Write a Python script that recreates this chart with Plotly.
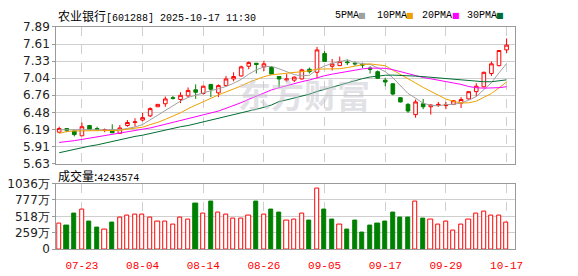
import plotly.graph_objects as go

# ---------------- data ----------------
dates = ["07-18","07-21","07-22","07-23","07-24","07-25","07-28","07-29","07-30","07-31",
         "08-01","08-04","08-05","08-06","08-07","08-08","08-11","08-12","08-13","08-14",
         "08-15","08-18","08-19","08-20","08-21","08-22","08-25","08-26","08-27","08-28",
         "08-29","09-01","09-02","09-03","09-04","09-05","09-08","09-09","09-10","09-11",
         "09-12","09-15","09-16","09-17","09-18","09-19","09-22","09-23","09-24","09-25",
         "09-26","09-29","09-30","10-09","10-10","10-13","10-14","10-15","10-16","10-17"]

opens  = [6.15,6.21,6.17,6.09,6.26,6.21,6.18,6.18,6.13,6.26,6.31,6.35,6.42,6.57,6.62,6.72,6.69,6.75,6.85,6.79,
          6.94,6.80,6.92,7.03,7.08,7.24,7.29,7.23,7.22,7.07,7.01,7.01,7.03,7.19,7.14,7.45,7.24,7.25,7.31,7.29,
          7.27,7.21,7.15,7.01,6.95,6.72,6.61,6.44,6.62,6.57,6.59,6.59,6.61,6.63,6.70,6.82,6.90,7.12,7.25,7.51]
highs  = [6.24,6.22,6.17,6.31,6.27,6.24,6.21,6.28,6.27,6.35,6.38,6.47,6.56,6.61,6.74,6.75,6.81,6.89,6.94,6.92,
          6.94,6.94,7.08,7.14,7.25,7.32,7.29,7.33,7.24,7.07,7.11,7.07,7.20,7.22,7.56,7.49,7.36,7.40,7.35,7.32,
          7.30,7.24,7.17,7.05,6.96,6.73,6.63,6.69,6.70,6.61,6.65,6.65,6.68,6.73,6.83,6.96,7.15,7.32,7.50,7.70]
lows   = [6.14,6.15,6.08,6.09,6.19,6.18,6.15,6.14,6.12,6.24,6.24,6.33,6.40,6.57,6.57,6.69,6.63,6.73,6.70,6.77,
          6.73,6.73,6.91,6.99,7.07,7.19,7.12,7.16,7.11,6.89,6.98,6.98,7.02,7.12,7.04,7.32,7.17,7.25,7.26,7.25,
          7.21,7.12,7.03,6.91,6.76,6.64,6.47,6.39,6.53,6.44,6.57,6.53,6.60,6.55,6.69,6.74,6.89,7.08,7.24,7.46]
closes = [6.21,6.18,6.11,6.24,6.20,6.20,6.19,6.14,6.22,6.31,6.32,6.39,6.54,6.61,6.70,6.71,6.76,6.84,6.81,6.91,
          6.86,6.92,7.03,7.07,7.23,7.30,7.27,7.28,7.11,7.03,7.03,7.06,7.18,7.15,7.51,7.32,7.28,7.32,7.30,7.28,
          7.26,7.19,7.04,6.98,6.78,6.65,6.50,6.65,6.57,6.60,6.61,6.60,6.67,6.69,6.82,6.91,7.14,7.28,7.50,7.59]

# volume in 万 (10k shares)
volumes = [405,375,555,625,435,345,310,420,505,525,540,540,495,430,430,390,495,460,720,565,
           750,580,540,475,475,525,750,540,630,570,445,460,565,450,960,630,465,390,315,450,
           255,375,405,435,570,495,495,745,480,460,390,430,295,390,465,565,595,525,525,424.3574]
vol_dir = "RGGRGGRGRRRRRRRRRRGRGRRRRRGRGGRRRGRGGRGGGGGGGGGRGRRRRRRRRRRR"

# moving-average values before enough history exists in the window
ma5_head  = [6.19,6.19,6.18,6.19]
ma10_head = [6.13,6.16,6.17,6.17,6.17,6.17,6.18,6.18,6.18]
ma20_head = [5.98,5.99,6.01,6.03,6.05,6.07,6.09,6.11,6.13,6.15,6.17,6.20,6.22,6.25,6.28,6.31,6.34,6.37,6.40]
ma30_head = [5.81,5.84,5.86,5.89,5.92,5.94,5.97,6.00,6.02,6.05,6.08,6.10,6.13,6.16,6.18,6.21,6.24,6.26,6.29,
             6.32,6.34,6.37,6.40,6.43,6.46,6.49,6.52,6.56,6.60]

price_ticks = ["5.63","5.91","6.19","6.48","6.76","7.04","7.33","7.61","7.89"]
vol_ticks = ["0","259万","518万","777万","1036万"]
vol_tickvals = [0,259,518,777,1036]
x_label_dates = ["07-23","08-04","08-14","08-26","09-05","09-17","09-29","10-17"]

ma_names = ["5PMA","10PMA","20PMA","30PMA"]
ma_colors = ["#a0a0a0","#f0a000","#ff00ff","#006e32"]

title_name = "农业银行"
title_rest = "[601288] 2025-10-17 11:30"
vol_title = "成交量:4243574"

# ---------------- derived ----------------
x = list(range(len(dates)))

def ma(n, head):
    out = []
    for i in range(len(closes)):
        if i < n - 1:
            out.append(head[i])
        else:
            out.append(sum(closes[i-n+1:i+1]) / n)
    return out

mas = [ma(5, ma5_head), ma(10, ma10_head), ma(20, ma20_head), ma(30, ma30_head)]

RED = "#ff0000"
GREEN = "#008000"

fig = go.Figure()

fig.add_trace(go.Candlestick(
    x=x, open=opens, high=highs, low=lows, close=closes,
    increasing=dict(line=dict(color=RED, width=1), fillcolor="white"),
    decreasing=dict(line=dict(color=GREEN, width=1), fillcolor=GREEN),
    whiskerwidth=0, showlegend=False, xaxis="x", yaxis="y", hoverinfo="skip"))

for vals, c in zip(mas, ma_colors):
    fig.add_trace(go.Scatter(x=x, y=vals, mode="lines", line=dict(color=c, width=1),
                             showlegend=False, xaxis="x", yaxis="y", hoverinfo="skip"))

fig.add_trace(go.Bar(
    x=x, y=volumes, width=0.55,
    marker=dict(color=["white" if d == "R" else GREEN for d in vol_dir],
                line=dict(color=[RED if d == "R" else GREEN for d in vol_dir], width=1)),
    showlegend=False, xaxis="x2", yaxis="y2", hoverinfo="skip"))

W, H = 578, 276
xdom = [57 / W, 522 / W]
pdom = [1 - 165 / H, 1 - 21 / H]
vdom = [1 - 255 / H, 1 - 186 / H]
xr = [-0.39, 60.08]
tick_idx = [dates.index(d) for d in x_label_dates]
n_pt = len(price_ticks)
price_tickvals = [5.63 + (7.89 - 5.63) * k / (n_pt - 1) for k in range(n_pt)]

axis_common = dict(showline=True, linecolor="#9a9a9a", linewidth=1, mirror=True, zeroline=False)

fig.update_layout(
    width=W, height=H, margin=dict(l=0, r=0, t=0, b=0),
    paper_bgcolor="white", plot_bgcolor="white", showlegend=False, boxgap=0.32,
    bargap=0,
    xaxis=dict(domain=xdom, range=xr, anchor="y", tickvals=tick_idx, showticklabels=False,
               showgrid=True, gridcolor="#cfcfcf", griddash="dash", gridwidth=1,
               rangeslider=dict(visible=False), ticks="", **axis_common),
    yaxis=dict(domain=pdom, range=[5.63, 7.89], anchor="x", tickvals=price_tickvals, ticktext=price_ticks,
               showgrid=True, gridcolor="#cfcfcf", gridwidth=1, ticks="outside", ticklen=3,
               tickcolor="#9a9a9a", tickfont=dict(family="DejaVu Sans", size=12, color="#222"),
               **axis_common),
    xaxis2=dict(domain=xdom, range=xr, anchor="y2", tickvals=tick_idx, ticktext=x_label_dates,
                showgrid=True, gridcolor="#cfcfcf", griddash="dash", gridwidth=1, ticks="",
                ticklabelstandoff=6,
                tickfont=dict(family="Liberation Mono", size=11, color=RED), **axis_common),
    yaxis2=dict(domain=vdom, range=[0, 1036], anchor="x2", tickvals=vol_tickvals, ticktext=vol_ticks,
                showgrid=True, gridcolor="#cfcfcf", gridwidth=1, ticks="outside", ticklen=3,
                tickcolor="#9a9a9a", tickfont=dict(family="DejaVu Sans", size=12, color="#222"),
                **axis_common),
)

ann = []
ann.append(dict(xref="paper", yref="paper", x=57 / W, y=1 - 9 / H, xanchor="left", yanchor="middle",
                showarrow=False,
                text=f"<span style='font-family:Noto Sans CJK SC;font-size:12px'>{title_name}</span>"
                     f"<span style='font-family:Liberation Mono;font-size:10px'>{title_rest}</span>",
                font=dict(family="Liberation Mono", size=10, color="#000")))
leg_x = [338, 380, 426, 472]
sq_x = [367.5, 415.5, 462.5, 507.5]
for name, c, lx, sx in zip(ma_names, ma_colors, leg_x, sq_x):
    ann.append(dict(xref="paper", yref="paper", x=lx / W, y=1 - 9 / H, xanchor="left", yanchor="middle",
                    showarrow=False, text=name,
                    font=dict(family="Liberation Mono", size=10, color="#000")))
    ann.append(dict(xref="paper", yref="paper", x=sx / W, y=1 - 9 / H, xanchor="center", yanchor="middle",
                    showarrow=False, text="■",
                    font=dict(family="DejaVu Sans", size=8, color=c)))
ann.append(dict(xref="paper", yref="paper", x=57 / W, y=1 - 177 / H, xanchor="left", yanchor="middle",
                showarrow=False,
                text=f"<span style='font-family:Noto Sans CJK SC;font-size:12px'>{vol_title[:4]}</span>"
                     f"<span style='font-family:Liberation Mono;font-size:10px'>{vol_title[4:]}</span>",
                font=dict(family="Liberation Mono", size=10, color="#000")))
ann.append(dict(xref="paper", yref="paper", x=308 / W, y=1 - 92 / H, xanchor="center", yanchor="middle",
                showarrow=False, text="<b>东方财富</b>",
                font=dict(family="Noto Sans CJK SC", size=33, color="rgba(195,195,205,0.5)")))
fig.update_layout(annotations=ann)

fig.write_html("out.html")
